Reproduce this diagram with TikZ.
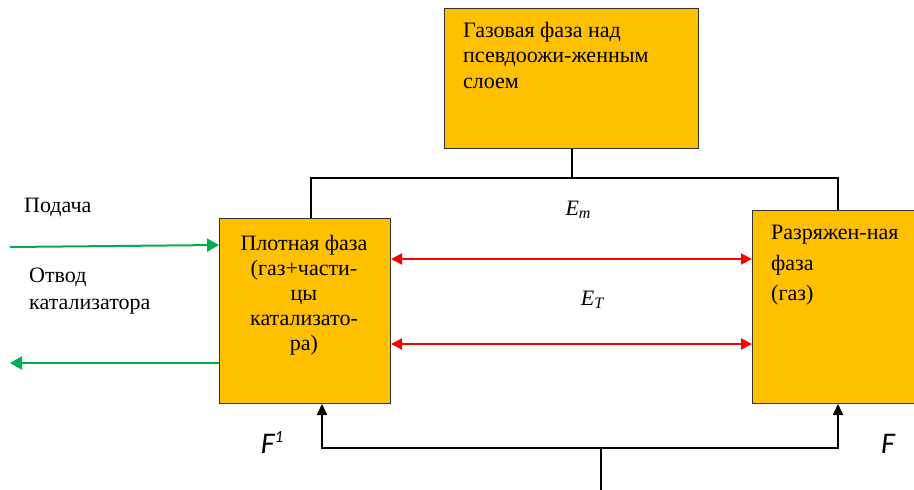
\documentclass[tikz,border=0pt]{standalone}
\usepackage{fontspec}
\setmainfont{Liberation Serif}
\newfontfamily\calib{Carlito}
\usetikzlibrary{arrows.meta,calc}
\definecolor{gold}{HTML}{FFC000}
\definecolor{grn}{HTML}{00B050}
\newcommand{\subit}[1]{\raisebox{-3pt}{\fontsize{16}{16}\selectfont\itshape #1}}
\begin{document}
\begin{tikzpicture}[x=1pt,y=-1pt,
  box/.style={draw=black!80,line width=1pt,fill=gold,anchor=north west,inner sep=0pt},
  txt/.style={font=\fontsize{22}{25.5}\selectfont,inner sep=0pt},
  blk/.style={line width=2pt,black},
  redarr/.style={line width=2pt,red,{Triangle[length=11pt,width=11pt]}-{Triangle[length=11pt,width=11pt]}},
  grnarr/.style={line width=2pt,grn,-{Triangle[length=12pt,width=13pt]}},
  uparr/.style={line width=2pt,black,-{Triangle[length=11pt,width=10pt]}}]
\useasboundingbox (0,0) rectangle (914,490);
\clip (0,0) rectangle (914,490);
\fill[white] (0,0) rectangle (914,490);
% boxes
\node[box,minimum width=254pt,minimum height=140pt] (top) at (444,8) {};
\node[box,minimum width=171pt,minimum height=185pt] (dense) at (219,218) {};
\node[box,minimum width=175pt,minimum height=193pt] (lean) at (752,210) {};
% texts
\node[txt,anchor=north west,align=left] (toptxt) at (463,22) {Газовая фаза над\\псевдоожи-женным\\слоем};
\node[txt,anchor=north,align=center,font=\fontsize{22}{25}\selectfont] (densetxt) at (304,235) {Плотная фаза\\(газ+части-\\цы\\катализато-\\ра)};
\node[txt,anchor=north west,align=left,font=\fontsize{22}{30.5}\selectfont] (leantxt) at (771,225) {Разряжен-ная\\фаза\\(газ)};
\node[txt,anchor=base west] (feed) at (24,212) {Подача};
\node[txt,anchor=north west,align=left,font=\fontsize{22}{27}\selectfont] (out) at (29,268) {Отвод\\катализатора};
\node[txt,anchor=base] (em) at (578,215) {\textit{E}\subit{m}};
\node[txt,anchor=base] (et) at (592,305) {\textit{E}\subit{T}};
\node[font=\calib\itshape\fontsize{30}{30}\selectfont,anchor=base,inner sep=0pt] (f1) at (272,453) {F\raisebox{11pt}{\fontsize{17}{17}\selectfont 1}};
\node[font=\calib\itshape\fontsize{30}{30}\selectfont,anchor=base,inner sep=0pt] (f) at (888,453) {F};
% top connector
\coordinate (j1) at (311,178);
\coordinate (j2) at (838,178);
\draw[blk] (top.south) -- (top.south |- j1);
\draw[blk] (dense.north -| j1) -- (j1) -- (j2) -- (lean.north -| j2);
% red arrows
\coordinate (r1) at (0,259);
\coordinate (r2) at (0,344);
\draw[redarr] (dense.east |- r1) -- (lean.west |- r1);
\draw[redarr] (dense.east |- r2) -- (lean.west |- r2);
% green arrows
\coordinate (gin) at (10,247);
\coordinate (gout) at (10,363);
\draw[grnarr] (gin) -- (dense.west |- 0,245);
\draw[grnarr] (dense.west |- gout) -- (gout);
% bottom feed
\coordinate (b0) at (601,490);
\coordinate (b1) at (601,448);
\coordinate (bl) at (322,448);
\coordinate (br) at (838,448);
\draw[blk] (b0) -- (b1);
\draw[uparr] (b1) -- (bl) -- (dense.south -| bl);
\draw[uparr] (b1) -- (br) -- (lean.south -| br);
\end{tikzpicture}
\end{document}
